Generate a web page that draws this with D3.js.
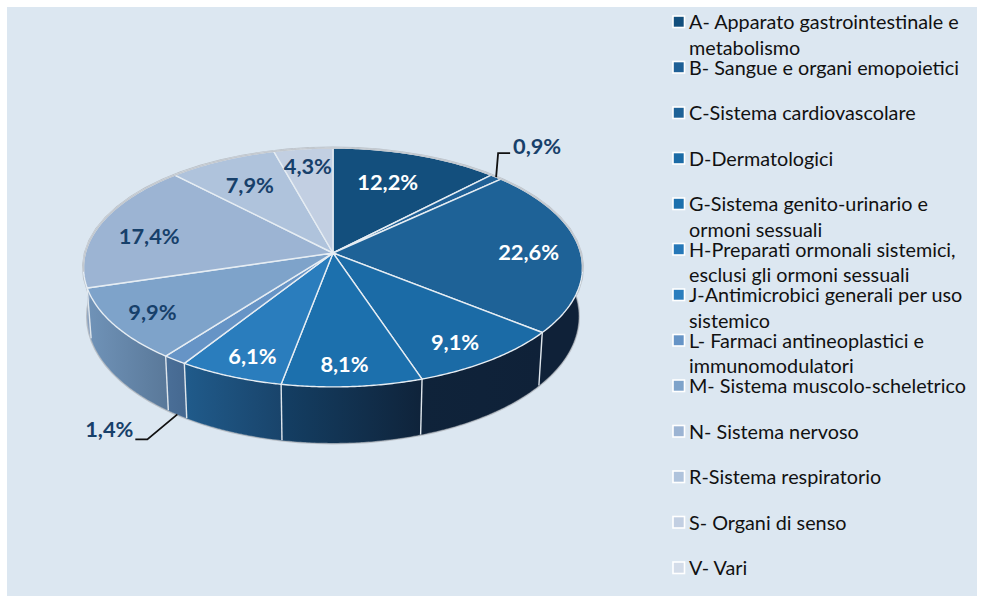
<!DOCTYPE html>
<html><head><meta charset="utf-8">
<style>html,body{margin:0;padding:0;background:#fff}svg{display:block}text{font-family:Lato,"Noto Sans",sans-serif}</style>
<script src="https://cdnjs.cloudflare.com/ajax/libs/d3/7.8.5/d3.min.js"></script>
</head><body><div id="c"></div>
<script>
const categories = [
  ["A- Apparato gastrointestinale e","metabolismo"],
  ["B- Sangue e organi emopoietici"],
  ["C-Sistema cardiovascolare"],
  ["D-Dermatologici"],
  ["G-Sistema genito-urinario e","ormoni sessuali"],
  ["H-Preparati ormonali sistemici,","esclusi gli ormoni sessuali"],
  ["J-Antimicrobici generali per uso","sistemico"],
  ["L- Farmaci antineoplastici e","immunomodulatori"],
  ["M- Sistema muscolo-scheletrico"],
  ["N- Sistema nervoso"],
  ["R-Sistema respiratorio"],
  ["S- Organi di senso"],
  ["V- Vari"]
];
const values = [12.2, 0.9, 22.6, 9.1, 8.1, 0, 6.1, 1.4, 9.9, 17.4, 7.9, 4.3, 0];
const colors = ["#134f7d","#1f6096","#1e6297","#1b6ba6","#1c70ad","#2678b8","#2a7dbd","#6694c6","#7ea3ca","#9cb4d3","#afc3dc","#c2cfe2","#d3dce9"];
const labelColors = ["#fff","#17406a","#fff","#fff","#fff","#fff","#fff","#17406a","#17406a","#17406a","#17406a","#17406a","#17406a"];
const labelNudge = [[-7,2],null,[18,2],[12,14],[-2,19],null,[-9,17],null,[-26,9],[-15,4],[-1,1],[-3,-10],null];

const W=981,H=596;
const svg=d3.select("#c").append("svg").attr("width",W).attr("height",H);
const defs=svg.append("defs");
svg.append("rect").attr("x",7).attr("y",7).attr("width",970).attr("height",589).attr("fill","#dce7f1");

const cx=333,cy=253,rA=247.7,rB=117.7,K=0.121,depth=0.984;
const fmt=v=>String(v.toFixed(1)).replace(".",",")+"%";
function rimTop(a,r=1){const x=Math.sin(a)*r,y=-Math.cos(a)*r,d=1-K*y;return [cx+rA*x/d,cy+rB*y/d];}
function rimLow(a){const p=rimTop(a),y=-Math.cos(a);return [cx+(p[0]-cx)*depth,p[1]+48+8*y];}
const line=d3.line();
const arcPts=(a0,a1,f)=>d3.range(0,61).map(i=>f(a0+(a1-a0)*i/60));

const arcs=d3.pie().sort(null).startAngle(0).endAngle(2*Math.PI).value(d=>d)(values);
const dark="#0f2138";
const tScale=d3.scaleLinear().domain([85,430]).range([0.12,1]).clamp(true);
const shade=(c,x)=>d3.interpolateRgb(c,dark)(tScale(x));

// outer silhouette glow
const gOut=svg.append("g");
gOut.append("path").attr("d",line(arcPts(0,2*Math.PI,rimTop))+"Z").attr("fill","none").attr("stroke","#b9bfc6").attr("stroke-width",3);
gOut.append("path").attr("d",line(arcPts(Math.PI*0.4,Math.PI*1.6,rimLow))).attr("fill","none").attr("stroke","#b9bfc6").attr("stroke-width",3);

// side faces
const gSide=svg.append("g");
arcs.forEach((d,i)=>{
  if(d.value===0)return;
  const pts=arcPts(d.startAngle,d.endAngle,rimTop),ptl=arcPts(d.startAngle,d.endAngle,rimLow).reverse();
  const xs=pts.map(p=>p[0]),x0=d3.min(xs),x1=d3.max(xs);
  const id="g"+i;
  const g=defs.append("linearGradient").attr("id",id).attr("gradientUnits","userSpaceOnUse").attr("x1",x0).attr("x2",x1).attr("y1",0).attr("y2",0);
  g.append("stop").attr("offset",0).attr("stop-color",shade(colors[i],x0));
  g.append("stop").attr("offset",1).attr("stop-color",shade(colors[i],x1));
  gSide.append("path").attr("d",line(pts.concat(ptl))+"Z").attr("fill",`url(#${id})`).attr("stroke",`url(#${id})`).attr("stroke-width",0.5);
});
// side seams
arcs.forEach(d=>{
  if(d.value===0)return;
  const a=d.endAngle;
  if(-Math.cos(a)>0.2){
    const p=rimTop(a),q=rimLow(a);
    gSide.append("line").attr("x1",p[0]).attr("y1",p[1]).attr("x2",q[0]).attr("y2",q[1]).attr("stroke","#dfe6ec").attr("stroke-width",1.4);
  }
});

// top faces
const gTop=svg.append("g");
arcs.forEach((d,i)=>{
  if(d.value===0)return;
  const pts=arcPts(d.startAngle,d.endAngle,rimTop);
  gTop.append("path").attr("d",line([[cx,cy]].concat(pts))+"Z").attr("fill",colors[i]).attr("stroke","#e6edf3").attr("stroke-width",1.4).attr("stroke-linejoin","round");
});
// back rim
gTop.append("path").attr("d",line(arcPts(-Math.PI*0.55,Math.PI*0.55,rimTop))).attr("fill","none").attr("stroke","#c3c8ce").attr("stroke-width",1.4);

// labels
const gLab=svg.append("g").attr("font-weight",700).attr("font-size",21.8).attr("text-anchor","middle");
arcs.forEach((d,i)=>{
  if(d.value===0||!labelNudge[i])return;
  const p=rimTop((d.startAngle+d.endAngle)/2,0.72);
  gLab.append("text").attr("x",p[0]+labelNudge[i][0]).attr("y",p[1]+labelNudge[i][1]).attr("dy","0.36em").attr("fill",labelColors[i]).text(fmt(d.value));
});
// leader labels
const leaders=[{i:1,at:rimTop,elbow:[[2,-24],[14,-24]],text:[41,-31]},{i:7,at:rimLow,elbow:[[-30,25],[-42,25]],text:[-68,15]}];
leaders.forEach(l=>{
  const d=arcs[l.i],a=l.at((d.startAngle+d.endAngle)/2);
  svg.append("path").attr("d",line([a].concat(l.elbow.map(e=>[a[0]+e[0],a[1]+e[1]])))).attr("fill","none").attr("stroke","#111").attr("stroke-width",1.8);
  gLab.append("text").attr("x",a[0]+l.text[0]).attr("y",a[1]+l.text[1]).attr("dy","0.36em").attr("fill",labelColors[l.i]).text(fmt(d.value));
});

// legend
const legY=d3.scalePoint().domain(d3.range(categories.length)).range([22,568]);
const gLeg=svg.append("g");
categories.forEach((c,i)=>{
  const y=legY(i);
  gLeg.append("rect").attr("x",673).attr("y",y-6).attr("width",11.5).attr("height",11.5).attr("fill",colors[i]).attr("stroke","#fff").attr("stroke-width",1.6);
  c.forEach((t,j)=>{
    gLeg.append("text").attr("x",689).attr("y",y+j*25.5).attr("dy","0.36em").attr("font-size",19.8).attr("fill","#111").text(t);
  });
});
</script></body></html>
